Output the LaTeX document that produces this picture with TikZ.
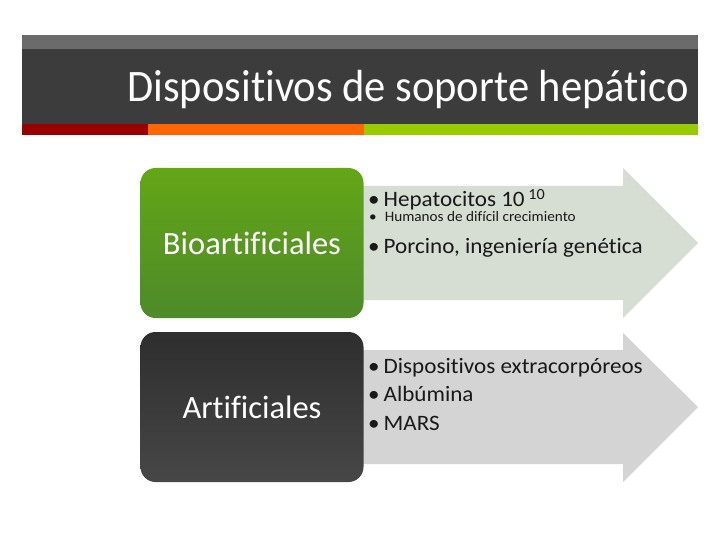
\documentclass[tikz,border=0pt]{standalone}
\usepackage{fontspec}
\setmainfont{Carlito}[Ligatures=NoCommon]
\newfontfamily\headfont{Carlito}[Ligatures=NoCommon, FakeStretch=0.945]
\newfontfamily\itemfont{Carlito}[Ligatures=NoCommon, FakeStretch=1.05]
\usepackage{tikz}
\usetikzlibrary{positioning}

\definecolor{bargrey}{HTML}{6B6B6B}
\definecolor{bardark}{HTML}{3C3C3C}
\definecolor{barred}{HTML}{990000}
\definecolor{barorange}{HTML}{FF6600}
\definecolor{bargreen}{HTML}{99CC00}
\definecolor{greentop}{HTML}{64A617}
\definecolor{greenbot}{HTML}{4D8A29}
\definecolor{darktop}{HTML}{2E2E2E}
\definecolor{darkbot}{HTML}{474747}
\definecolor{arrowone}{HTML}{D6DDD3}
\definecolor{arrowtwo}{HTML}{D4D4D4}

\tikzset{
    catbox/.style={rounded corners=15pt, minimum width=223pt, minimum height=150pt,
        text=white, font=\fontsize{32.5}{34}\selectfont, inner sep=0pt},
    bullets/.style={anchor=base west, inner sep=0pt, text=black!90},
}

\begin{document}
\begin{tikzpicture}[x=1pt, y=-1pt]

    \useasboundingbox (0,0) rectangle (720,540);

    % title bar
    \fill[bargrey] (22,35) rectangle (698,49);
    \fill[bardark] (22,49) rectangle (698,124);
    \fill[barred] (22,124) rectangle (148,135);
    \fill[barorange] (148,124) rectangle (364,135);
    \fill[bargreen] (364,124) rectangle (698,135);
    \node[anchor=base east, inner sep=0pt, text=white, font=\headfont\fontsize{45}{48}\selectfont] (title) at (689,102) {Dispositivos de soporte hepático};

    % arrows
    \fill[arrowone] (355,186) -- (623,186) -- (623,168) -- (698,243) -- (623,318) -- (623,300) -- (355,300) -- cycle;
    \fill[arrowtwo] (355,350) -- (623,350) -- (623,333) -- (698,407) -- (623,482) -- (623,464) -- (355,464) -- cycle;

    % boxes
    \node[catbox, top color=greentop, bottom color=greenbot] (bio) at (252,243) {Bioartificiales};
    \node[catbox, top color=darktop, bottom color=darkbot] (art) at (252,407) {Artificiales};

    % items
    \node[bullets, font=\itemfont\fontsize{22}{26}\selectfont] (hepa) at (368,207) {\textbullet\hspace{4pt}Hepatocitos 10\,\textsuperscript{10}};
    \node[bullets, font=\itemfont\fontsize{14.5}{16}\selectfont] (huma) at (369,222) {\textbullet\hspace{8pt}Humanos de difícil crecimiento};
    \node[bullets, font=\itemfont\fontsize{22}{26}\selectfont] (porc) at (368,254) {\textbullet\hspace{4pt}Porcino, ingeniería genética};

    \node[bullets, font=\itemfont\fontsize{22}{26}\selectfont] (disp) at (368,373) {\textbullet\hspace{4pt}Dispositivos extracorpóreos};
    \node[bullets, font=\itemfont\fontsize{22}{26}\selectfont] (albu) at (368,401) {\textbullet\hspace{4pt}Albúmina};
    \node[bullets, font=\itemfont\fontsize{22}{26}\selectfont] (mars) at (368,430) {\textbullet\hspace{4pt}MARS};

\end{tikzpicture}
\end{document}
